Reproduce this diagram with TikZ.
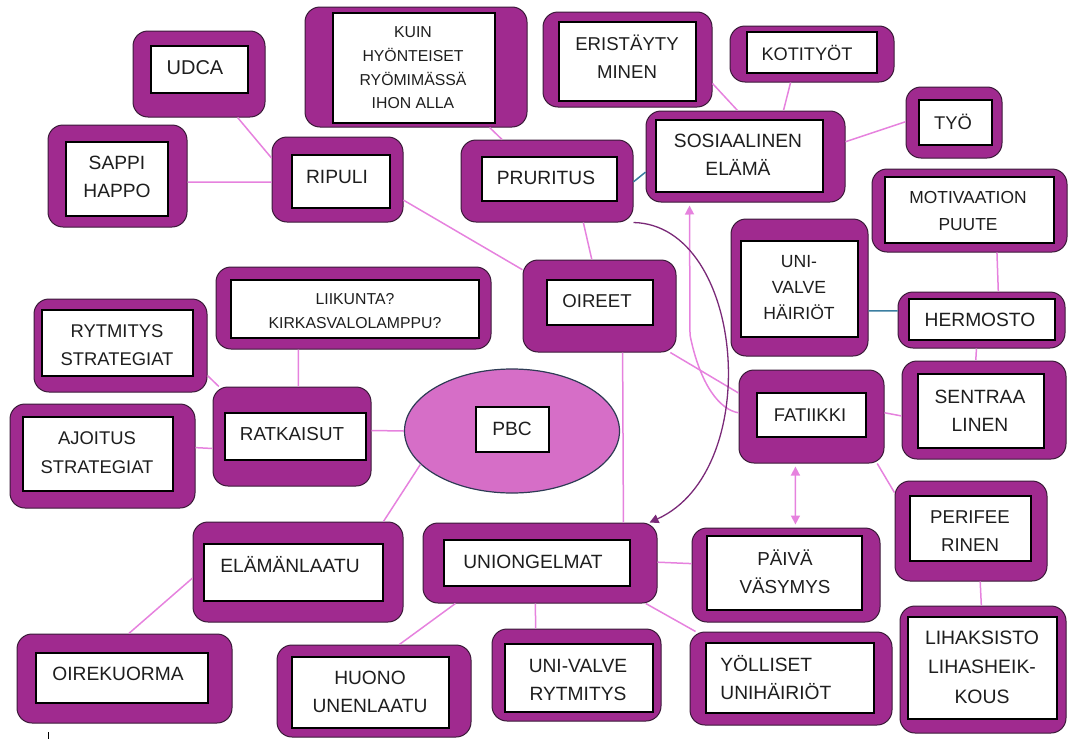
\documentclass[tikz,border=0pt]{standalone}
\usepackage{fontspec}
\setmainfont{Liberation Sans}
\usetikzlibrary{fit,calc,arrows.meta,shapes.geometric}
\definecolor{boxpurple}{HTML}{A02A8F}
\definecolor{boxedge}{HTML}{3A1A38}
\definecolor{ellfill}{HTML}{D66EC7}
\definecolor{elledge}{HTML}{2E3B55}
\definecolor{lnk}{HTML}{E682DE}
\definecolor{tealc}{HTML}{3B7EA1}
\definecolor{darkarc}{HTML}{7A2A78}
\definecolor{txt}{HTML}{1E1E1E}
\newcommand{\conceptbox}[6]{%
  \node[outerbox, fit={#2}] (#1) {};
  \node[innerbox, fit={#3}] (#1-in) {};
  \node[lbl, #5] (#1-t) at #4 {#6};
}
\begin{document}
\begin{tikzpicture}[x=0.5pt,y=-0.5pt,
  outerbox/.style={rectangle, rounded corners=7.5pt, fill=boxpurple, draw=boxedge, line width=0.5pt, inner sep=0pt},
  innerbox/.style={rectangle, fill=white, draw=black, line width=0.85pt, inner sep=0pt},
  lbl/.style={text=txt, align=center, inner sep=0pt, font=\fontsize{9.6}{14}\selectfont},
  conn/.style={draw=lnk, line width=0.75pt},
  tealline/.style={draw=tealc, line width=0.75pt},
  darkline/.style={draw=darkarc, line width=0.65pt},
  tip/.style={-{Triangle[length=4.5pt,width=4.5pt]}},
  twotip/.style={{Triangle[length=4.5pt,width=4.5pt]}-{Triangle[length=4.5pt,width=4.5pt]}}
]
\useasboundingbox (0,0) rectangle (1070,739);

\conceptbox{udca}{(133,31) (265,117)}{(151,46) (248,93)}{(195,68)}{font=\fontsize{10}{14}\selectfont}{UDCA}
\conceptbox{sappi}{(48,125) (187,227)}{(66,142) (168,216)}{(117,177)}{}{SAPPI\\HAPPO}
\conceptbox{ripuli}{(272,137) (403,222)}{(292,155) (390,208)}{(337,177)}{}{RIPULI}
\conceptbox{kuin}{(305,7) (527,127)}{(333,13) (495,123)}{(413,68)}{font=\fontsize{7.9}{11.8}\selectfont}{KUIN\\HYÖNTEISET\\RYÖMIMÄSSÄ\\IHON ALLA}
\conceptbox{pruritus}{(461,140) (633,222)}{(482,157) (617,201)}{(546,178)}{}{PRURITUS}
\conceptbox{eristaytyminen}{(543,12) (712,107)}{(559,22) (696,101)}{(627,57)}{font=\fontsize{9.3}{14}\selectfont}{ERISTÄYTY\\MINEN}
\conceptbox{kotityot}{(730,26) (894,82)}{(747,32) (877,73)}{(807,53)}{font=\fontsize{9.1}{14}\selectfont}{KOTITYÖT}
\conceptbox{sosiaalinen}{(646,111) (845,202)}{(656,120) (823,192)}{(738,155)}{}{SOSIAALINEN\\ELÄMÄ}
\conceptbox{tyo}{(906,87) (1002,158)}{(919,100) (992,145)}{(953,122)}{font=\fontsize{9.2}{14}\selectfont}{TYÖ}
\conceptbox{motivaatio}{(872,169) (1067,252)}{(885,177) (1054,243)}{(968,211)}{font=\fontsize{8.7}{13.5}\selectfont}{MOTIVAATION\\PUUTE}
\conceptbox{univalveh}{(731,219) (868,356)}{(741,241) (858,337)}{(799,288)}{font=\fontsize{8.8}{13}\selectfont}{UNI-\\VALVE\\HÄIRIÖT}
\conceptbox{hermosto}{(898,292) (1065,348)}{(909,299) (1055,340)}{(980,320)}{}{HERMOSTO}
\conceptbox{sentraalinen}{(902,361) (1066,459)}{(918,374) (1044,448)}{(980,411)}{}{SENTRAA\\LINEN}
\conceptbox{fatiikki}{(739,370) (884,463)}{(757,393) (866,437)}{(810,415)}{font=\fontsize{9.2}{14}\selectfont}{FATIIKKI}
\conceptbox{perifeerinen}{(895,481) (1047,581)}{(910,496) (1031,561)}{(970,531)}{font=\fontsize{9.3}{14}\selectfont}{PERIFEE\\RINEN}
\conceptbox{lihaksisto}{(900,606) (1066,733)}{(908,617) (1057,719)}{(982,667)}{font=\fontsize{9.7}{14.7}\selectfont}{LIHAKSISTO\\LIHASHEIK-\\KOUS}
\conceptbox{paiva}{(692,528) (880,622)}{(707,536) (862,610)}{(785,572)}{font=\fontsize{9.4}{14.2}\selectfont}{PÄIVÄ\\VÄSYMYS}
\conceptbox{yolliset}{(690,632) (892,725)}{(706,643) (874,713)}{(720,678)}{anchor=west, align=left}{YÖLLISET\\UNIHÄIRIÖT}
\conceptbox{univalver}{(492,629) (661,721)}{(505,644) (653,712)}{(578,680)}{}{UNI-VALVE\\RYTMITYS}
\conceptbox{uniongelmat}{(423,523) (657,603)}{(444,540) (630,586)}{(533,562)}{}{UNIONGELMAT}
\conceptbox{huono}{(277,645) (471,737)}{(292,657) (449,728)}{(370,692)}{}{HUONO\\UNENLAATU}
\conceptbox{elamanlaatu}{(193,522) (403,622)}{(204,544) (383,601)}{(290,565)}{}{ELÄMÄNLAATU}
\conceptbox{oirekuorma}{(17,634) (232,723)}{(36,653) (208,703)}{(118,674)}{}{OIREKUORMA}
\conceptbox{ratkaisut}{(213,387) (371,486)}{(225,413) (366,460)}{(292,434)}{font=\fontsize{9.4}{14}\selectfont}{RATKAISUT}
\conceptbox{rytmitys}{(34,299) (207,392)}{(42,310) (193,376)}{(117,345)}{font=\fontsize{9.2}{13.8}\selectfont}{RYTMITYS\\STRATEGIAT}
\conceptbox{ajoitus}{(10,404) (195,508)}{(23,417) (173,491)}{(97,453)}{font=\fontsize{9.2}{14.4}\selectfont}{AJOITUS\\STRATEGIAT}
\conceptbox{liikunta}{(216,267) (491,349)}{(231,280) (479,338)}{(355,311)}{font=\fontsize{7.9}{12}\selectfont}{LIIKUNTA?\\KIRKASVALOLAMPPU?}
\conceptbox{oireet}{(523,260) (676,352)}{(547,280) (653,325)}{(597,301)}{font=\fontsize{9.3}{14}\selectfont}{OIREET}

\node[ellipse, fill=ellfill, draw=elledge, line width=0.6pt, minimum width=107.5pt, minimum height=62pt, inner sep=0pt] (pbc) at (512,431) {};
\node[innerbox, fit={(476,407) (549,452)}] (pbc-in) {};
\node[lbl] (pbc-t) at (512,429) {PBC};

% connectors
\draw[conn] ($(udca.south west)!0.79!(udca.south east)$) -- ($(ripuli.north west)!0.25!(ripuli.south west)$);
\draw[conn] ($(sappi.north east)!0.56!(sappi.south east)$) -- ($(ripuli.north west)!0.53!(ripuli.south west)$);
\draw[conn] ($(kuin.south west)!0.83!(kuin.south east)$) -- ($(pruritus.north west)!0.24!(pruritus.north east)$);
\draw[conn] ($(ripuli.north east)!0.74!(ripuli.south east)$) -- ($(oireet.north west)!0.11!(oireet.south west)$);
\draw[conn] ($(pruritus.south west)!0.71!(pruritus.south east)$) -- ($(oireet.north west)!0.45!(oireet.north east)$);
\draw[tealline] ($(pruritus.north east)!0.51!(pruritus.south east)$) -- ($(sosiaalinen.north west)!0.67!(sosiaalinen.south west)$);
\draw[conn] ($(eristaytyminen.north east)!0.75!(eristaytyminen.south east)$) -- ($(sosiaalinen.north west)!0.46!(sosiaalinen.north east)$);
\draw[conn] ($(kotityot.south west)!0.37!(kotityot.south east)$) -- ($(sosiaalinen.north west)!0.69!(sosiaalinen.north east)$);
\draw[conn] ($(sosiaalinen.north east)!0.34!(sosiaalinen.south east)$) -- ($(tyo.north west)!0.49!(tyo.south west)$);
\draw[conn] ($(motivaatio.south west)!0.64!(motivaatio.south east)$) -- ($(hermosto.north west)!0.6!(hermosto.north east)$);
\draw[tealline] ($(univalveh.north east)!0.67!(univalveh.south east)$) -- ($(hermosto.north west)!0.34!(hermosto.south west)$);
\draw[conn] ($(hermosto.south west)!0.47!(hermosto.south east)$) -- ($(sentraalinen.north west)!0.45!(sentraalinen.north east)$);
\draw[conn] ($(fatiikki.north east)!0.46!(fatiikki.south east)$) -- ($(sentraalinen.north west)!0.56!(sentraalinen.south west)$);
\draw[conn] ($(fatiikki.south west)!0.95!(fatiikki.south east)$) -- ($(perifeerinen.north west)!0.12!(perifeerinen.south west)$);
\draw[conn] ($(perifeerinen.south west)!0.56!(perifeerinen.south east)$) -- ($(lihaksisto.north west)!0.49!(lihaksisto.north east)$);
\draw[conn] ($(oireet.south west)!0.96!(oireet.south east)$) -- ($(fatiikki.north west)!0.25!(fatiikki.south west)$);
\draw[conn] ($(oireet.south west)!0.65!(oireet.south east)$) -- ($(uniongelmat.north west)!0.855!(uniongelmat.north east)$);
\draw[conn] ($(liikunta.south west)!0.30!(liikunta.south east)$) -- ($(ratkaisut.north west)!0.54!(ratkaisut.north east)$);
\draw[conn] ($(rytmitys.north east)!0.82!(rytmitys.south east)$) -- ($(ratkaisut.north west)!0.04!(ratkaisut.north east)$);
\draw[conn] ($(ajoitus.north east)!0.42!(ajoitus.south east)$) -- ($(ratkaisut.north west)!0.62!(ratkaisut.south west)$);
\draw[conn] ($(ratkaisut.north east)!0.44!(ratkaisut.south east)$) -- (pbc.west);
\draw[conn] (pbc.200) -- ($(elamanlaatu.north west)!0.905!(elamanlaatu.north east)$);
\draw[conn] ($(elamanlaatu.north west)!0.56!(elamanlaatu.south west)$) -- ($(oirekuorma.north west)!0.52!(oirekuorma.north east)$);
\draw[conn] ($(uniongelmat.north east)!0.49!(uniongelmat.south east)$) -- ($(paiva.north west)!0.38!(paiva.south west)$);
\draw[conn] ($(uniongelmat.south west)!0.14!(uniongelmat.south east)$) -- ($(huono.north west)!0.63!(huono.north east)$);
\draw[conn] ($(uniongelmat.south west)!0.48!(uniongelmat.south east)$) -- ($(univalver.north west)!0.26!(univalver.north east)$);
\draw[conn] ($(uniongelmat.south west)!0.95!(uniongelmat.south east)$) -- ($(yolliset.north west)!0.03!(yolliset.north east)$);

% arrows
\draw[conn, tip, shorten >=1.5pt] ($(fatiikki.north west)!0.46!(fatiikki.south west)$) .. controls (720,410) and (700,385) .. (690,335) -- ($(sosiaalinen.south west)!0.22!(sosiaalinen.south east)$);
\draw[conn, twotip, shorten >=1.5pt, shorten <=1.5pt] ($(fatiikki.south west)!0.39!(fatiikki.south east)$) -- ($(paiva.north west)!0.55!(paiva.north east)$);
\draw[darkline, tip] (pruritus.south east) .. controls (745,225) and (765,470) .. ($(uniongelmat.north west)!0.966!(uniongelmat.north east)$);

% stray tick at bottom left
\draw[black, line width=0.5pt] (48,732) -- (48,739);
\end{tikzpicture}
\end{document}
